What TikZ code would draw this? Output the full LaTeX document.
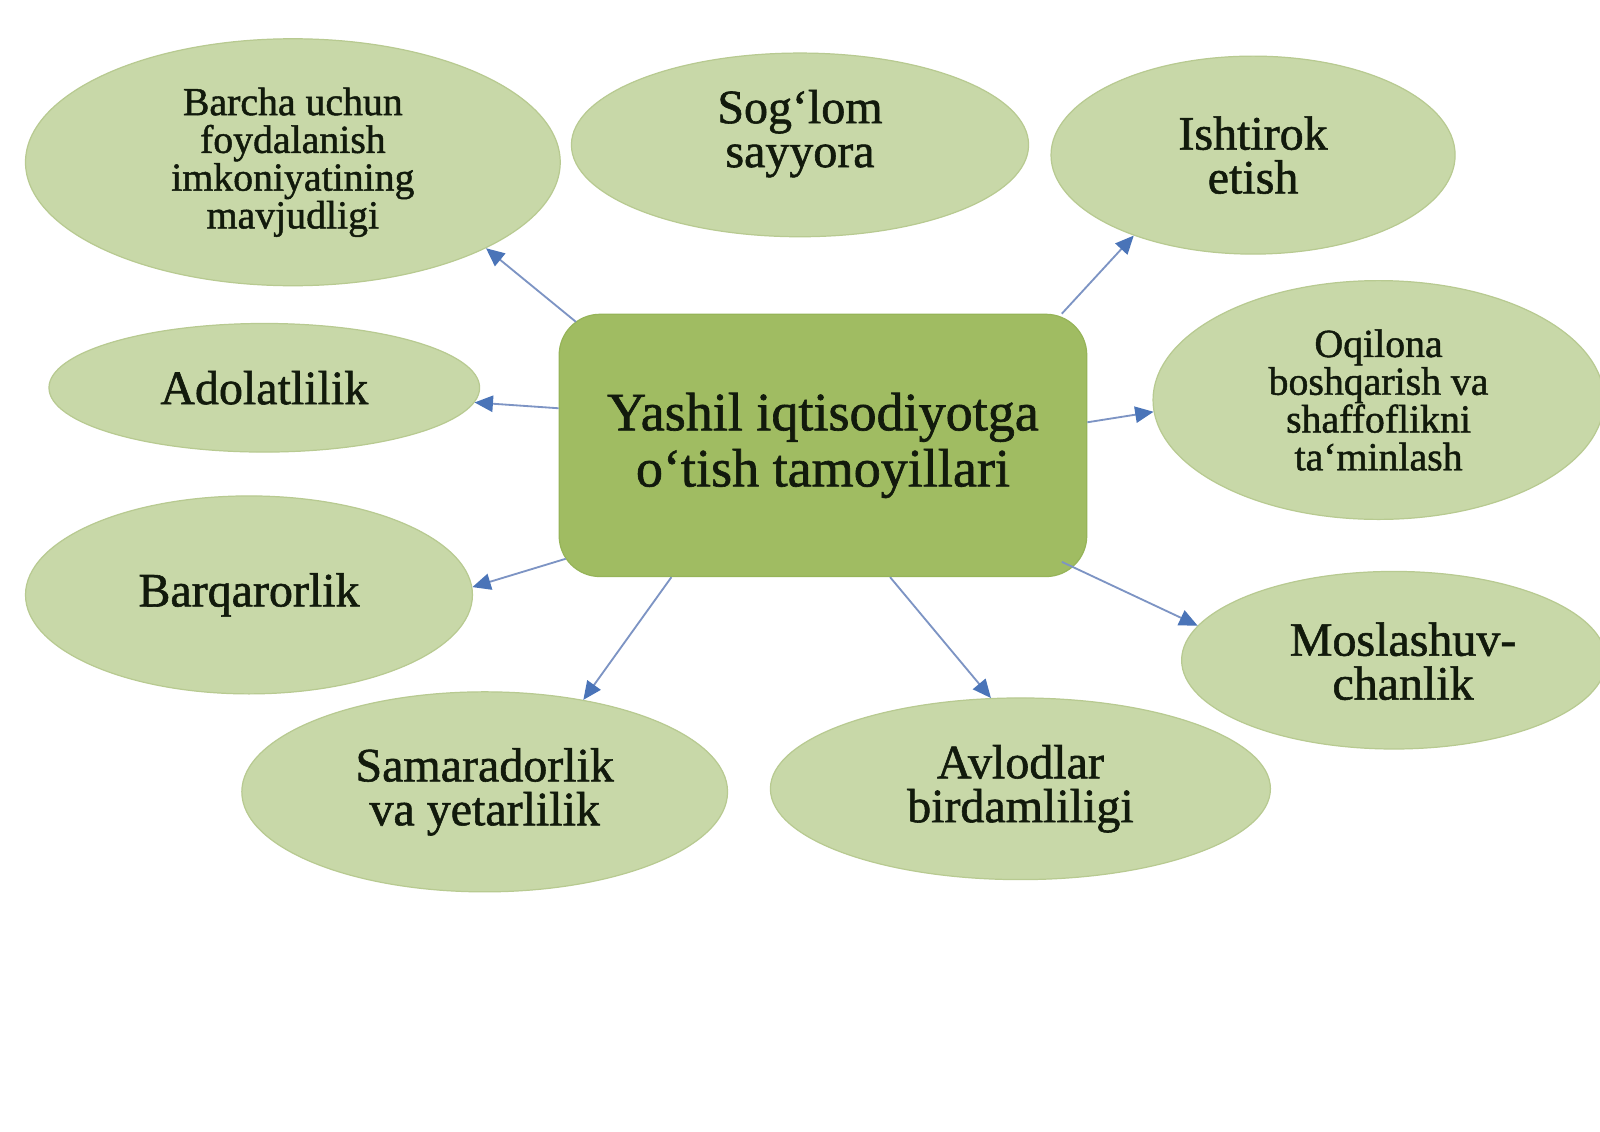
\documentclass[tikz,border=0pt]{standalone}
\usepackage{fontspec}
\setmainfont{Liberation Serif}[FakeBold=0.6]
\newfontfamily\heavyserif{Liberation Serif}[FakeBold=1.2]
\usetikzlibrary{shapes.geometric,arrows.meta,calc}
\definecolor{ellfill}{RGB}{200,216,168}
\definecolor{elldraw}{RGB}{184,202,145}
\definecolor{boxfill}{RGB}{160,188,98}
\definecolor{boxdraw}{RGB}{150,180,88}
\definecolor{arrline}{RGB}{125,148,196}
\definecolor{arrhead}{RGB}{74,116,184}
\definecolor{txt}{RGB}{18,26,12}
\tikzset{
  oval/.style={ellipse, fill=ellfill, draw=elldraw, line width=0.6pt, inner sep=0pt, align=center, text=txt},
  ovaltext/.style={inner sep=0pt, align=center, text=txt},
  centerbox/.style={rectangle, rounded corners=20pt, fill=boxfill, draw=boxdraw, line width=0.6pt,
    minimum width=258.5pt, minimum height=128.5pt, align=center, text=txt, inner sep=0pt},
  conn/.style={draw=arrline, line width=0.9pt,
    -{Triangle[length=9pt,width=8pt,fill=arrhead,color=arrhead]}},
  fA/.style={font=\heavyserif\fontsize{19.5}{18.5}\selectfont},
  fB/.style={font=\heavyserif\fontsize{23.5}{21.5}\selectfont},
  fC/.style={font=\heavyserif\fontsize{26.5}{27.5}\selectfont},
}
\begin{document}
\begin{tikzpicture}[x=0.5pt,y=-0.5pt]
\useasboundingbox (0,0) rectangle (1568,1109);
\fill[white] (0,0) rectangle (1568,1109);

% ellipses
\node[oval, fA, minimum width=262pt, minimum height=121pt] (e1) at (287,159)
  {Barcha uchun\\foydalanish\\imkoniyatining\\mavjudligi};
\node[oval, minimum width=224pt, minimum height=90pt] (e2) at (784,142) {};
\node[ovaltext, fB] (t2) at (784,131) {Sog‘lom\\sayyora};
\node[oval, fB, minimum width=198pt, minimum height=97pt] (e3) at (1228,152)
  {Ishtirok\\etish};
\node[oval, fA, minimum width=221pt, minimum height=117pt] (e4) at (1351,392)
  {Oqilona\\boshqarish va\\shaffoflikni\\ta‘minlash};
\node[oval, fB, minimum width=211pt, minimum height=63pt] (e5) at (259,380)
  {Adolatlilik};
\node[oval, fB, minimum width=219pt, minimum height=97pt] (e6) at (244,583)
  {Barqarorlik};
\node[oval, fB, minimum width=238pt, minimum height=98pt] (e7) at (475,776)
  {Samaradorlik\\va yetarlilik};
\node[oval, fB, minimum width=245pt, minimum height=89pt] (e8) at (1000,773)
  {Avlodlar\\birdamliligi};
\node[oval, minimum width=208pt, minimum height=87pt] (e9) at (1366,647) {};
\node[ovaltext, fB] (t9) at (1375,648) {Moslashuv-\\chanlik};

% centre
\node[centerbox, fC] (c) at (806.5,436.5) {Yashil iqtisodiyotga\\o‘tish tamoyillari};

% connectors
\draw[conn] ($(c.north west)+(17,8)$) -- (e1.-24.3);
\draw[conn] ($(c.north east)+(-25,0)$) -- (e3.214.1);
\draw[conn] (c.172.6) -- (e5.-4.7);
\draw[conn] (c.5.4) -- (e4.183.4);
\draw[conn] ($(c.south west)+(7,-18)$) -- (e6.2.3);
\draw[conn] (c.221.7) -- (e7.43.5);
\draw[conn] (c.-63.3) -- (e8.108.4);
\draw[conn] ($(c.south east)+(-25,-15)$) -- (e9.170.7);
\end{tikzpicture}
\end{document}
